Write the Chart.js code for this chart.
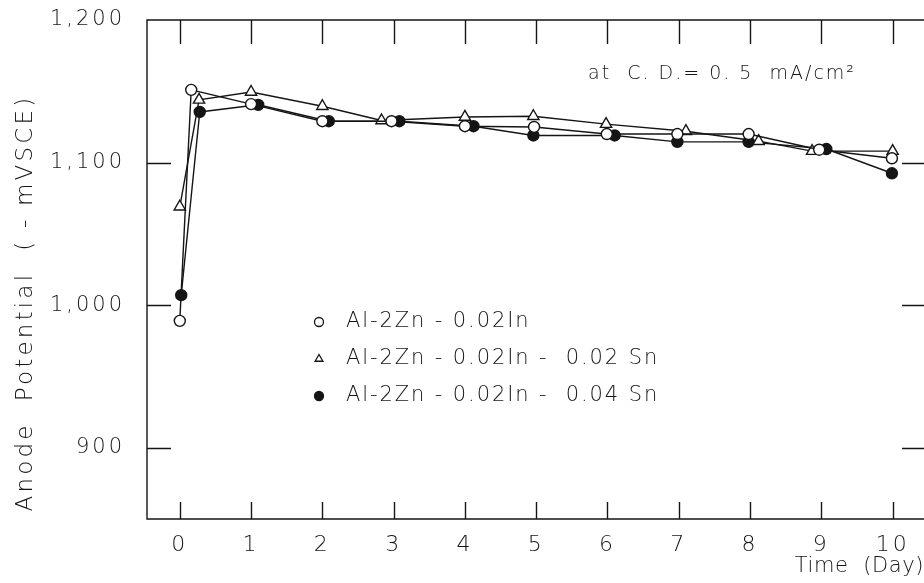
<!DOCTYPE html>
<html><head><meta charset="utf-8">
<script src="https://cdn.jsdelivr.net/npm/chart.js@4/dist/chart.umd.min.js"></script>
<style>html,body{margin:0;padding:0;background:#fff}canvas{display:block}</style>
</head><body>
<canvas id="c" width="924" height="583" style="width:924px;height:583px"></canvas>
<script>
// ---- data ----
const seriesNames = ['Al-2Zn - 0.02In', 'Al-2Zn - 0.02In -  0.02 Sn', 'Al-2Zn - 0.02In -  0.04 Sn'];
const inDays        = [0, 0.16, 1, 2, 2.97, 4, 4.97, 5.99, 6.98, 7.98, 8.97, 9.99];
const inPotential   = [989, 1151, 1141, 1129, 1129, 1125.5, 1125, 1120, 1120, 1120, 1109, 1103];
const sn02Days      = [0, 0.27, 1, 2, 2.83, 4, 4.96, 5.98, 7.1, 8.12, 8.87, 10];
const sn02Potential = [1069, 1144, 1149.5, 1139.5, 1129.5, 1132, 1132.5, 1127, 1122, 1115, 1108, 1108];
const sn04Days      = [0.02, 0.28, 1.1, 2.09, 3.08, 4.12, 4.96, 6.1, 6.98, 7.98, 9.07, 9.99];
const sn04Potential = [1007, 1135.5, 1140.5, 1129, 1129, 1125.5, 1119, 1119, 1114.5, 1114.5, 1109.5, 1092.5];
const xTicks = [0, 1, 2, 3, 4, 5, 6, 7, 8, 9, 10];
const yTicks = [900, 1000, 1100, 1200];
const yTitle = 'Anode  Potential  ( - mVSCE)';
const xTitle = 'Time  (Day)';
const note = 'at  C. D.= 0. 5  mA/cm²';

const FONT = '"DejaVu Sans", sans-serif';
const INK = '#151515';

const pair = (xs, ys) => xs.map((v, i) => ({x: v, y: ys[i]}));

const styles = [
  {pointStyle: 'circle', radius: 5.5, bg: '#fff'},
  {pointStyle: 'triangle', radius: 6.5, bg: '#fff'},
  {pointStyle: 'circle', radius: 5.5, bg: INK}
];
const datasets = [pair(inDays, inPotential), pair(sn02Days, sn02Potential), pair(sn04Days, sn04Potential)]
  .map((d, i) => ({
    label: seriesNames[i], data: d,
    borderColor: INK, borderWidth: 1.4, tension: 0,
    pointStyle: styles[i].pointStyle, pointRadius: styles[i].radius,
    pointBackgroundColor: styles[i].bg, pointBorderColor: INK, pointBorderWidth: 1.4
  }));

const decor = {
  id: 'decor',
  beforeDraw(chart) { chart.ctx.letterSpacing = '3px'; },
  beforeDatasetsDraw(chart) {
    const {ctx, chartArea: a, scales: {x, y}} = chart;
    ctx.save();
    ctx.strokeStyle = INK; ctx.lineWidth = 1.4;
    ctx.beginPath();
    ctx.moveTo(924, a.top); ctx.lineTo(a.left, a.top); ctx.lineTo(a.left, a.bottom); ctx.lineTo(924, a.bottom);
    ctx.stroke();
    ctx.beginPath();
    xTicks.forEach(v => {
      const px = Math.round(x.getPixelForValue(v)) + 0.5;
      ctx.moveTo(px, a.top); ctx.lineTo(px, a.top + 24);
      ctx.moveTo(px, a.bottom); ctx.lineTo(px, a.bottom - 17);
    });
    yTicks.filter(v => v < 1200).forEach(v => {
      const py = Math.round(y.getPixelForValue(v)) + 0.5;
      ctx.moveTo(a.left, py); ctx.lineTo(a.left + 24, py);
      ctx.moveTo(a.right + 2, py); ctx.lineTo(a.right - 22, py);
    });
    ctx.stroke();
    ctx.restore();
  },
  afterDraw(chart) {
    const {ctx} = chart;
    ctx.save();
    ctx.fillStyle = INK;
    ctx.textBaseline = 'middle';
    // y title
    ctx.save();
    ctx.font = '300 23px ' + FONT;
    ctx.letterSpacing = '3.2px';
    ctx.translate(26, 303);
    ctx.rotate(-Math.PI / 2);
    ctx.textAlign = 'center';
    ctx.fillText(yTitle, 0, 0);
    ctx.restore();
    // x title
    ctx.font = '300 21px ' + FONT;
    ctx.letterSpacing = '0.6px';
    ctx.textAlign = 'right';
    ctx.fillText(xTitle, 924, 567);
    // note
    ctx.font = '300 19px ' + FONT;
    ctx.letterSpacing = '2px';
    ctx.textAlign = 'left';
    ctx.fillText(note, 588, 74);
    // legend
    const ly = [322, 359, 396];
    ctx.font = '300 21px ' + FONT;
    ctx.letterSpacing = '1.9px';
    seriesNames.forEach((n, i) => {
      ctx.fillStyle = styles[i].bg; ctx.strokeStyle = INK; ctx.lineWidth = 1.3;
      Chart.helpers.drawPoint(ctx, {pointStyle: styles[i].pointStyle, radius: 4.5, borderWidth: 1.3, rotation: 0}, 319, ly[i]);
      ctx.fillStyle = INK;
      ctx.fillText(n, 346, ly[i]);
    });
    ctx.restore();
    ctx.letterSpacing = '0px';
  }
};

new Chart(document.getElementById('c'), {
  type: 'line',
  data: {datasets},
  options: {
    responsive: false, animation: false, devicePixelRatio: 1,
    layout: {autoPadding: false, padding: {left: 0, right: 0, top: 20, bottom: 0}},
    plugins: {legend: {display: false}, tooltip: {enabled: false}},
    scales: {
      x: {
        type: 'linear', min: -0.46, max: 10.44,
        afterBuildTicks: s => { s.ticks = xTicks.map(v => ({value: v})); },
        afterFit: s => { s.height = 64; s.paddingLeft = 0; s.paddingRight = 0; },
        grid: {display: false, drawTicks: false}, border: {display: false},
        ticks: {color: INK, font: {family: FONT, size: 22, weight: '300'}, padding: 13, maxRotation: 0, autoSkip: false}
      },
      y: {
        type: 'linear', min: 850, max: 1200,
        afterBuildTicks: s => { s.ticks = yTicks.map(v => ({value: v})); },
        afterFit: s => { s.width = 147; s.paddingTop = 0; s.paddingBottom = 0; },
        grid: {display: false, drawTicks: false}, border: {display: false},
        ticks: {color: INK, font: {family: FONT, size: 21, weight: '300'}, padding: 22,
          callback: v => v.toLocaleString('en-US')}
      }
    }
  },
  plugins: [decor]
});
</script>
</body></html>
